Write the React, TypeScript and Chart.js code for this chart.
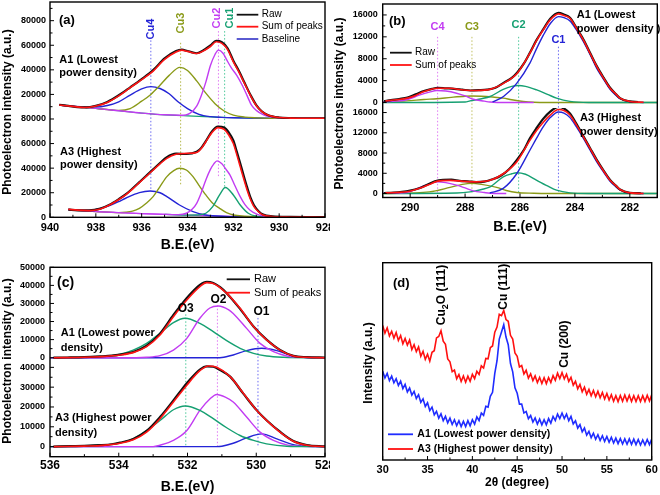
import React, { useEffect, useRef } from 'react';
import { Chart, registerables } from 'chart.js';

Chart.register(...registerables);

const FONT = '"Liberation Sans", Arial, Helvetica, sans-serif';
Chart.defaults.font.family = FONT;

const BLUE = '#2424d6';
const OLIVE = '#8a9a18';
const PURPLE = '#c23cf2';
const TEAL = '#16a072';
const RED = '#ff1414';
const BLACK = '#111111';
const BASE = '#4848cc';

// ---------------- Panel (a): Cu 2p ----------------
const aXTicks = [940, 938, 936, 934, 932, 930, 928];
const aXMinor = [939, 937, 935, 933, 931, 929];
const aYTopTicks = [20000, 40000, 60000, 80000];
const aYTopMinor = [10000, 30000, 50000, 70000, 90000];
const aYBotTicks = [0, 20000, 40000, 60000, 80000];
const aYBotMinor = [10000, 30000, 50000, 70000];
const aPeakNames = ['Cu4', 'Cu3', 'Cu2', 'Cu1'];
const aPeakX = [935.6, 934.3, 932.65, 932.38];
const aPeakTop = [64000, 62000, 71500, 71500];
const aPeakBottom = [21000, 26000, 33000, 23500];

const a1Sum = [
  [939.6, 11400], [939.0, 10300], [938.5, 9300], [938.0, 10600], [937.5, 13500], [937.0, 18800], [936.5, 25500],
  [936.0, 32000], [935.5, 39000], [935.0, 48500], [934.5, 54500], [934.25, 56000], [934.0, 55000], [933.6, 53300],
  [933.25, 56000], [933.0, 59000], [932.75, 62800], [932.5, 61500], [932.25, 56500], [932.0, 46500], [931.75, 38000],
  [931.5, 28500], [931.25, 19000], [931.0, 11000], [930.75, 6000], [930.5, 3300], [930.0, 1200], [929.5, 700],
  [929.0, 600], [928.5, 500], [928.0, 500],
];
const a1Raw = [
  [939.6, 11600], [939.2, 10700], [938.8, 9700], [938.4, 9400], [938.0, 10800], [937.5, 13900], [937.0, 19300],
  [936.5, 25800], [936.0, 32500], [935.5, 39800], [935.0, 49300], [934.5, 55300], [934.25, 56500], [934.0, 55300],
  [933.6, 53500], [933.25, 56600], [933.0, 59800], [932.75, 63500], [932.5, 62500], [932.25, 57500], [932.0, 47500],
  [931.75, 38800], [931.5, 29000], [931.25, 19500], [931.0, 11300], [930.75, 6100], [930.5, 3300], [930.0, 1200],
  [929.5, 700], [929.0, 600], [928.5, 500], [928.0, 500],
];
const a1Base = [
  [939.6, 11300], [939.0, 10300], [938.5, 9500], [938.0, 8600], [937.5, 7700], [937.0, 6700], [936.5, 5700],
  [936.0, 4800], [935.5, 4000], [935.0, 3400], [934.5, 2900], [934.0, 2500], [933.5, 2100], [933.0, 1700],
  [932.5, 1300], [932.0, 1000], [931.0, 700], [930.0, 500], [929.0, 400], [928.0, 400],
];
const a1Cu4 = [
  [939.6, 11300], [939.0, 10400], [938.5, 9800], [938.0, 9700], [937.5, 11000], [937.0, 14000], [936.5, 19500],
  [936.0, 24500], [935.6, 26300], [935.2, 24800], [934.8, 20500], [934.4, 13800], [934.0, 8500], [933.5, 3800],
  [933.0, 1900], [932.5, 1300], [932.0, 1000], [931.0, 700], [930.0, 500], [929.0, 400], [928.0, 400],
];
const a1Cu3 = [
  [939.6, 11300], [939.0, 10300], [938.5, 9500], [938.0, 8600], [937.5, 7700], [937.0, 7000], [936.5, 8500],
  [936.0, 14500], [935.6, 20000], [935.2, 27500], [934.8, 35500], [934.33, 42000], [934.0, 39500], [933.6, 31000],
  [933.2, 21000], [932.8, 12500], [932.4, 6500], [932.0, 3200], [931.5, 1500], [931.0, 900], [930.0, 500],
  [928.0, 400],
];
const a1Cu2 = [
  [939.6, 11300], [938.0, 8600], [937.0, 6700], [936.0, 4800], [935.0, 3400], [934.3, 3000], [933.9, 4600],
  [933.6, 10500], [933.4, 19000], [933.2, 30000], [933.0, 43500], [932.8, 52500], [932.65, 56000], [932.45, 53500],
  [932.3, 48500], [932.1, 42000], [931.85, 35500], [931.6, 27000], [931.4, 19000], [931.2, 11000], [931.0, 7000],
  [930.7, 3500], [930.4, 1800], [930.0, 900], [929.0, 500], [928.0, 400],
];

const a3Sum = [
  [939.2, 6500], [938.8, 5800], [938.3, 5400], [937.8, 6800], [937.4, 10000], [937.0, 14500], [936.7, 18200],
  [936.4, 23000], [936.1, 28200], [935.8, 33300], [935.5, 38500], [935.2, 43500], [934.9, 48000], [934.5, 51300],
  [934.05, 52000], [933.6, 52800], [933.4, 56000], [933.2, 61500], [932.95, 68500], [932.67, 73000], [932.4, 71500],
  [932.2, 67000], [932.0, 60000], [931.85, 51000], [931.7, 41300], [931.55, 31500], [931.4, 22300], [931.25, 14500],
  [931.1, 8700], [930.9, 4500], [930.7, 1900], [930.3, 700], [929.5, 300], [928.0, 100],
];
const a3Raw = [
  [939.2, 6300], [938.8, 5700], [938.3, 5600], [937.8, 7100], [937.4, 10300], [937.0, 14800], [936.7, 18600],
  [936.4, 23400], [936.1, 28600], [935.8, 33800], [935.5, 39000], [935.2, 44200], [934.9, 49000], [934.5, 51800],
  [934.05, 51500], [933.6, 53300], [933.4, 56500], [933.2, 62000], [932.95, 69500], [932.67, 73800], [932.4, 73000],
  [932.2, 69000], [932.0, 62500], [931.85, 53500], [931.7, 44000], [931.55, 34000], [931.4, 24500], [931.25, 16000],
  [931.1, 9800], [930.9, 5000], [930.7, 2200], [930.3, 800], [929.5, 300], [928.0, 100],
];
const a3Base = [
  [939.2, 6300], [938.5, 5300], [938.0, 4700], [937.0, 3800], [936.0, 3000], [935.0, 2400], [934.0, 1800],
  [933.0, 1200], [932.0, 700], [931.0, 300], [930.0, 100], [928.0, 0],
];
const a3Cu4 = [
  [939.2, 6400], [938.8, 5800], [938.3, 5500], [937.8, 7300], [937.4, 9500], [937.0, 12800], [936.7, 15500],
  [936.1, 20100], [935.63, 21400], [935.2, 20000], [934.9, 16800], [934.35, 10000], [933.76, 4600], [933.2, 1900],
  [932.3, 700], [931.0, 300], [930.0, 100], [928.0, 0],
];
const a3Cu3 = [
  [939.2, 6300], [938.0, 4700], [937.0, 3800], [936.7, 4100], [936.4, 5000], [936.1, 7300], [935.8, 11500],
  [935.5, 16800], [935.2, 25000], [934.9, 33100], [934.6, 38000], [934.35, 39900], [934.05, 38500], [933.76, 33100],
  [933.5, 26000], [933.2, 18200], [932.9, 11500], [932.6, 7300], [932.3, 3800], [932.0, 1900], [931.5, 900],
  [931.0, 400], [930.0, 100], [928.0, 0],
];
const a3Cu2 = [
  [939.2, 6300], [938.0, 4700], [937.0, 3800], [936.0, 3000], [935.0, 2400], [934.4, 2200], [934.05, 3300],
  [933.8, 6500], [933.6, 11400], [933.4, 20000], [933.2, 30400], [933.0, 39000], [932.85, 43500], [932.71, 45900],
  [932.5, 43500], [932.3, 38500], [932.15, 34500], [931.95, 26500], [931.7, 16800], [931.5, 10500], [931.28, 6000],
  [931.0, 2800], [930.7, 1100], [930.3, 400], [929.0, 100], [928.0, 0],
];
const a3Cu1 = [
  [935.0, 2400], [934.0, 1800], [933.6, 1900], [933.2, 3300], [932.9, 8700], [932.6, 18200], [932.35, 24200],
  [932.0, 18200], [931.7, 10000], [931.35, 3300], [931.0, 900], [930.5, 300], [929.5, 100], [928.0, 0],
];

// ---------------- Panel (b): C 1s ----------------
const bXTicks = [290, 288, 286, 284, 282];
const bXMinor = [291, 289, 287, 285, 283, 281];
const bYTicks = [0, 4000, 8000, 12000, 16000];
const bYMinor = [2000, 6000, 10000, 14000];
const bPeakNames = ['C4', 'C3', 'C2', 'C1'];
const bPeakX = [289.0, 287.75, 286.05, 284.6];
const bPeakTop = [12000, 12000, 12000, 10200];

const b1Sum = [
  [290.9, 300], [290.5, 500], [290.1, 800], [289.8, 1300], [289.5, 2000], [289.0, 2600], [288.55, 2600],
  [288.06, 2300], [287.6, 2200], [287.1, 2400], [286.6, 3500], [286.1, 5350], [285.64, 9000], [285.4, 11300],
  [285.15, 13300], [284.9, 15100], [284.6, 16200], [284.4, 15900], [284.18, 15400], [283.95, 13600], [283.69, 11400],
  [283.45, 9000], [283.21, 6600], [282.95, 4400], [282.72, 2600], [282.5, 1500], [282.36, 800], [282.0, 200],
  [281.5, 50],
];
const b1Raw = [
  [290.95, 250], [290.7, 450], [290.4, 650], [290.1, 900], [289.8, 1500], [289.5, 2100], [289.2, 2500],
  [289.0, 2700], [288.7, 2600], [288.4, 2500], [288.1, 2350], [287.8, 2200], [287.5, 2250], [287.2, 2350],
  [286.9, 2700], [286.6, 3600], [286.3, 4500], [286.1, 5500], [285.85, 7200], [285.64, 9100], [285.4, 11400],
  [285.15, 13400], [284.9, 15300], [284.6, 16400], [284.4, 16100], [284.18, 15500], [283.95, 13700], [283.69, 11500],
  [283.45, 9100], [283.21, 6700], [282.95, 4500], [282.72, 2700], [282.5, 1500], [282.36, 800], [282.0, 200],
  [281.7, 100],
];
const b1C1 = [
  [287.0, 100], [286.6, 1100], [286.12, 3500], [285.64, 7200], [285.4, 9800], [285.15, 12300], [284.9, 14400],
  [284.6, 15700], [284.4, 15500], [284.18, 14900], [283.95, 13300], [283.69, 11100], [283.45, 8800], [283.21, 6300],
  [282.95, 4200], [282.72, 2400], [282.5, 1300], [282.36, 700], [282.0, 150], [281.5, 0],
];
const b1C2 = [
  [291.0, 0], [288.0, 100], [287.82, 300], [287.4, 700], [287.09, 1100], [286.61, 2400], [286.3, 2950],
  [286.06, 3100], [285.8, 2950], [285.39, 2300], [285.0, 1500], [284.67, 800], [284.18, 200], [283.5, 0], [281.0, 0],
];
const b1C3 = [
  [291.0, 100], [290.13, 300], [289.5, 550], [289.03, 700], [288.5, 950], [288.0, 1150], [287.76, 1200],
  [287.4, 1150], [287.0, 1000], [286.61, 800], [286.3, 500], [285.88, 200], [285.5, 50], [285.0, 0], [281.0, 0],
];
const b1C4 = [
  [291.0, 100], [290.5, 250], [290.13, 500], [289.64, 1400], [289.3, 1900], [289.03, 2200], [288.7, 2100],
  [288.31, 1700], [288.0, 1200], [287.7, 600], [287.3, 250], [287.09, 100], [286.5, 0], [285.5, 0],
];

const b3Sum = [
  [290.9, 130], [290.5, 200], [290.13, 330], [289.8, 800], [289.52, 1300], [289.25, 1900], [289.03, 2400],
  [288.55, 2600], [288.06, 2400], [287.6, 2300], [287.09, 2600], [286.61, 3900], [286.12, 6250], [285.64, 10500],
  [285.39, 12500], [285.15, 14100], [284.9, 15500], [284.6, 16600], [284.4, 16400], [284.18, 15500], [283.95, 13600],
  [283.69, 11200], [283.45, 8900], [283.21, 6600], [282.95, 4400], [282.72, 2600], [282.5, 1500], [282.36, 800],
  [282.0, 130], [281.5, 0],
];
const b3Raw = [
  [290.95, 100], [290.6, 200], [290.3, 350], [290.0, 600], [289.7, 1000], [289.4, 1700], [289.1, 2400],
  [288.8, 2700], [288.5, 2750], [288.2, 2500], [287.9, 2400], [287.6, 2250], [287.3, 2350], [287.0, 2800],
  [286.7, 3500], [286.4, 4800], [286.12, 6600], [285.85, 8700], [285.64, 10900], [285.39, 13000], [285.15, 14800],
  [284.9, 16200], [284.6, 17100], [284.4, 16800], [284.18, 15800], [283.95, 13800], [283.69, 11300], [283.45, 9000],
  [283.21, 6700], [282.95, 4500], [282.72, 2700], [282.5, 1500], [282.36, 800], [282.0, 150], [281.6, 50],
];
const b3C1 = [
  [287.1, 100], [286.61, 1000], [286.12, 3900], [285.64, 8550], [285.39, 11000], [285.15, 13200], [284.9, 15000],
  [284.6, 16100], [284.4, 15900], [284.18, 15000], [283.95, 13200], [283.69, 10900], [283.45, 8600], [283.21, 6300],
  [282.95, 4200], [282.72, 2400], [282.5, 1300], [282.36, 700], [282.0, 100], [281.5, 0],
];
const b3C2 = [
  [291.0, 0], [288.3, 100], [287.82, 330], [287.4, 800], [287.09, 1300], [286.61, 3300], [286.3, 3900],
  [286.12, 4100], [285.8, 3800], [285.39, 2600], [285.0, 1500], [284.67, 660], [284.18, 130], [283.5, 0], [281.0, 0],
];
const b3C3 = [
  [291.0, 0], [289.3, 330], [288.55, 1200], [288.1, 1800], [287.76, 2000], [287.4, 1800], [286.85, 1200],
  [286.5, 600], [286.12, 200], [285.5, 50], [285.0, 0], [281.0, 0],
];
const b3C4 = [
  [291.0, 50], [290.5, 100], [290.13, 200], [289.64, 1200], [289.3, 1900], [289.03, 2300], [288.7, 2150],
  [288.31, 1650], [288.0, 1100], [287.7, 530], [287.3, 200], [287.09, 60], [286.5, 0],
];

// ---------------- Panel (c): O 1s ----------------
const cXTicks = [536, 534, 532, 530, 528];
const cXMinor = [535, 533, 531, 529];
const cYTopTicks = [0, 10000, 20000, 30000, 40000, 50000];
const cYTopMinor = [5000, 15000, 25000, 35000, 45000];
const cYBotTicks = [0, 10000, 20000, 30000, 40000];
const cYBotMinor = [5000, 15000, 25000, 35000];
const cPeakNames = ['O3', 'O2', 'O1'];
const cPeakX = [532.05, 531.13, 529.95];
const cPeakTop = [24000, 29000, 22000];

const c1Sum = [
  [535.9, 0], [535.0, 200], [534.55, 550], [533.96, 1500], [533.58, 2800], [533.19, 6100], [532.8, 12500],
  [532.41, 22700], [532.02, 31900], [531.64, 39300], [531.44, 41500], [531.25, 41100], [530.86, 35600],
  [530.47, 27300], [530.08, 17200], [529.7, 9800], [529.31, 4200], [528.92, 900], [528.53, 200], [528.0, 0],
];
const c1Raw = [
  [535.9, 0], [535.5, 100], [535.0, 300], [534.55, 700], [534.2, 1100], [533.96, 1700], [533.58, 3100],
  [533.19, 6600], [532.8, 13300], [532.41, 23600], [532.02, 33000], [531.8, 37600], [531.64, 40300], [531.44, 41900],
  [531.25, 41300], [531.05, 39000], [530.86, 35700], [530.47, 27000], [530.08, 17300], [529.7, 10000],
  [529.31, 4300], [528.92, 1000], [528.53, 300], [528.0, 100],
];
const c1O3 = [
  [536.0, 0], [535.0, 200], [534.55, 550], [533.96, 2000], [533.58, 4200], [533.19, 7900], [532.8, 13500],
  [532.41, 19400], [532.07, 21800], [531.64, 19000], [531.25, 14400], [530.86, 9400], [530.47, 5200],
  [530.08, 2400], [529.7, 900], [529.2, 200], [528.5, 0], [528.0, 0],
];
const c1O2 = [
  [536.0, 0], [533.5, 0], [533.19, 200], [532.8, 1100], [532.41, 4200], [532.02, 10700], [531.64, 21800],
  [531.35, 27500], [531.1, 28600], [530.8, 26500], [530.67, 24500], [530.28, 16200], [529.89, 7900], [529.5, 3300],
  [529.11, 900], [528.7, 200], [528.0, 0],
];
const c1O1 = [
  [536.0, 0], [531.15, 0], [531.0, 100], [530.67, 1500], [530.28, 3900], [529.84, 5200], [529.4, 3900],
  [528.92, 900], [528.5, 100], [528.0, 0],
];

const c3Sum = [
  [535.9, 0], [535.0, 250], [534.55, 500], [533.96, 1700], [533.58, 3400], [533.19, 7300], [532.8, 14100],
  [532.41, 22500], [532.02, 31000], [531.64, 38300], [531.39, 40700], [531.15, 40000], [530.76, 35300],
  [530.37, 26800], [529.99, 18300], [529.7, 13200], [529.31, 7300], [528.92, 2700], [528.53, 700], [528.0, 0],
];
const c3Raw = [
  [535.9, 0], [535.4, 200], [535.0, 350], [534.55, 700], [534.2, 1200], [533.96, 2000], [533.58, 3800],
  [533.19, 7900], [532.8, 14900], [532.41, 23300], [532.02, 32000], [531.8, 36200], [531.64, 38900], [531.44, 40500],
  [531.25, 40300], [531.05, 38600], [530.76, 35300], [530.37, 26600], [529.99, 18400], [529.7, 13300],
  [529.31, 7500], [528.92, 2800], [528.53, 800], [528.0, 100],
];
const c3O3 = [
  [536.0, 0], [535.0, 300], [534.55, 700], [533.96, 1900], [533.58, 3900], [533.19, 8100], [532.8, 13200],
  [532.41, 18600], [532.07, 20500], [531.64, 18300], [531.25, 14100], [530.86, 9500], [530.47, 5600],
  [530.08, 3100], [529.7, 1400], [529.11, 170], [528.5, 0], [528.0, 0],
];
const c3O2 = [
  [536.0, 0], [533.0, 0], [532.8, 700], [532.41, 3100], [532.02, 8100], [531.64, 18300], [531.35, 24000],
  [531.15, 26300], [530.9, 25000], [530.67, 22500], [530.28, 14900], [529.89, 7300], [529.5, 3100], [529.11, 850],
  [528.7, 200], [528.0, 0],
];
const c3O1 = [
  [536.0, 0], [531.15, 0], [531.0, 200], [530.67, 1700], [530.28, 4400], [529.84, 6400], [529.4, 3900],
  [528.92, 1000], [528.5, 200], [528.0, 0],
];

// ---------------- Panel (d): XRD ----------------
const dXTicks = [30, 35, 40, 45, 50, 55, 60];
const dXMinor = [32.5, 37.5, 42.5, 47.5, 52.5, 57.5];
const dA3 = [
  [30.0, 68.2], [30.25, 64.3], [30.5, 67.0], [30.75, 62.9], [31.0, 65.2], [31.25, 61.8], [31.5, 64.6], [31.75, 60.6],
  [32.0, 63.1], [32.25, 58.9], [32.5, 61.6], [32.75, 58.3], [33.0, 60.8], [33.25, 56.0], [33.5, 58.4], [33.75, 54.9],
  [34.0, 57.3], [34.25, 52.6], [34.5, 55.1], [34.75, 51.0], [35.0, 53.6], [35.25, 50.1], [35.5, 54.6], [35.75, 55.4],
  [36.0, 61.9], [36.25, 62.6], [36.5, 65.5], [36.75, 60.2], [37.0, 58.6], [37.25, 51.2], [37.5, 49.8], [37.75, 44.8],
  [38.0, 45.6], [38.25, 41.2], [38.5, 43.3], [38.75, 39.8], [39.0, 42.6], [39.25, 39.4], [39.5, 42.5], [39.75, 39.9],
  [40.0, 43.4], [40.25, 41.2], [40.5, 45.0], [40.75, 43.4], [41.0, 47.7], [41.25, 46.6], [41.5, 51.5], [41.75, 51.3],
  [42.0, 56.9], [42.25, 57.8], [42.5, 64.8], [42.75, 67.4], [43.0, 73.9], [43.25, 73.2], [43.5, 75.8], [43.75, 71.2],
  [44.0, 70.3], [44.25, 63.2], [44.5, 61.3], [44.75, 54.2], [45.0, 52.6], [45.25, 47.2], [45.5, 47.9], [45.75, 43.6],
  [46.0, 45.5], [46.25, 41.5], [46.5, 43.7], [46.75, 40.2], [47.0, 42.6], [47.25, 39.3], [47.5, 41.9], [47.75, 38.8],
  [48.0, 41.7], [48.25, 38.7], [48.5, 41.8], [48.75, 39.3], [49.0, 42.8], [49.25, 40.4], [49.5, 44.0], [49.75, 41.3],
  [50.0, 44.3], [50.25, 41.1], [50.5, 43.5], [50.75, 39.8], [51.0, 41.9], [51.25, 37.9], [51.5, 39.9], [51.75, 36.1],
  [52.0, 38.3], [52.25, 34.6], [52.5, 36.9], [52.75, 33.3], [53.0, 35.8], [53.25, 32.5], [53.5, 35.2], [53.75, 32.0],
  [54.0, 34.8], [54.25, 31.5], [54.5, 34.2], [54.75, 30.9], [55.0, 33.7], [55.25, 30.4], [55.5, 33.1], [55.75, 29.8],
  [56.0, 32.6], [56.25, 29.6], [56.5, 32.7], [56.75, 29.8], [57.0, 32.9], [57.25, 29.9], [57.5, 32.8], [57.75, 29.7],
  [58.0, 32.6], [58.25, 29.6], [58.5, 32.6], [58.75, 29.6], [59.0, 32.6], [59.25, 29.7], [59.5, 32.8], [59.75, 29.9],
  [60.0, 33.0],
];
const dA1 = [
  [30.0, 45.0], [30.25, 41.6], [30.5, 43.9], [30.75, 40.2], [31.0, 42.5], [31.25, 39.1], [31.5, 41.2], [31.75, 37.8],
  [32.0, 40.0], [32.25, 36.2], [32.5, 38.3], [32.75, 34.5], [33.0, 36.5], [33.25, 32.9], [33.5, 34.8], [33.75, 31.2],
  [34.0, 33.1], [34.25, 29.2], [34.5, 31.0], [34.75, 27.1], [35.0, 29.0], [35.25, 25.0], [35.5, 26.8], [35.75, 22.9],
  [36.0, 24.7], [36.25, 21.2], [36.5, 23.4], [36.75, 19.9], [37.0, 22.1], [37.25, 18.8], [37.5, 21.2], [37.75, 18.0],
  [38.0, 20.4], [38.25, 17.4], [38.5, 19.9], [38.75, 16.9], [39.0, 19.6], [39.25, 16.9], [39.5, 19.9], [39.75, 17.3],
  [40.0, 20.4], [40.25, 18.2], [40.5, 21.8], [40.75, 20.0], [41.0, 23.8], [41.25, 22.6], [41.5, 27.2], [41.75, 26.8],
  [42.0, 32.3], [42.25, 34.3], [42.5, 43.9], [42.75, 50.3], [43.0, 61.3], [43.25, 64.9], [43.5, 68.6], [43.75, 62.3],
  [44.0, 58.4], [44.25, 48.9], [44.5, 44.7], [44.75, 36.6], [45.0, 33.8], [45.25, 28.3], [45.5, 28.3], [45.75, 23.8],
  [46.0, 24.6], [46.25, 20.9], [46.5, 22.5], [46.75, 19.2], [47.0, 21.3], [47.25, 18.2], [47.5, 20.7], [47.75, 17.8],
  [48.0, 20.4], [48.25, 17.8], [48.5, 21.0], [48.75, 18.7], [49.0, 22.1], [49.25, 20.0], [49.5, 23.3], [49.75, 21.0],
  [50.0, 23.8], [50.25, 21.0], [50.5, 23.3], [50.75, 19.9], [51.0, 22.1], [51.25, 18.3], [51.5, 19.9], [51.75, 16.2],
  [52.0, 17.9], [52.25, 14.3], [52.5, 16.2], [52.75, 12.6], [53.0, 14.5], [53.25, 11.3], [53.5, 13.6], [53.75, 10.5],
  [54.0, 12.8], [54.25, 9.9], [54.5, 12.3], [54.75, 9.4], [55.0, 11.9], [55.25, 9.0], [55.5, 11.5], [55.75, 8.6],
  [56.0, 11.1], [56.25, 8.3], [56.5, 10.9], [56.75, 8.1], [57.0, 10.7], [57.25, 8.0], [57.5, 10.7], [57.75, 7.9],
  [58.0, 10.6], [58.25, 7.8], [58.5, 10.4], [58.75, 7.6], [59.0, 10.2], [59.25, 7.6], [59.5, 10.4], [59.75, 7.8],
  [60.0, 10.6],
];

// ---------------- helpers ----------------
const toXY = (arr: number[][]) => arr.map(([x, y]) => ({ x, y }));

function ln(data: number[][], color: string, width: number, axis: string, smooth = true) {
  return {
    data: toXY(data),
    borderColor: color,
    backgroundColor: color,
    borderWidth: width,
    pointRadius: 0,
    pointHoverRadius: 0,
    fill: false,
    yAxisID: axis,
    tension: 0,
    cubicInterpolationMode: smooth ? 'monotone' : 'default',
  };
}

function xScale(min: number, max: number, reverse: boolean, ticks: number[], size: number, pad: number) {
  return {
    type: 'linear',
    position: 'bottom',
    min,
    max,
    reverse,
    grid: { display: false, drawTicks: false },
    border: { display: false },
    ticks: {
      color: '#000',
      font: { size, weight: 'bold', family: FONT },
      padding: pad,
      autoSkip: false,
      maxRotation: 0,
      minRotation: 0,
      callback: (v: any) => String(v),
    },
    afterBuildTicks: (s: any) => {
      s.ticks = ticks.map((value) => ({ value }));
    },
    afterFit: (s: any) => {
      s.height = 30;
      s.paddingLeft = 0;
      s.paddingRight = 0;
      s.paddingTop = 0;
      s.paddingBottom = 0;
    },
  };
}

function yScale(min: number, max: number, ticks: number[], weight: number, stackWeight: number, pad: number) {
  return {
    type: 'linear',
    position: 'left',
    min,
    max,
    stack: 'panel',
    stackWeight,
    weight,
    grid: { display: false, drawTicks: false },
    border: { display: false },
    ticks: {
      color: '#000',
      font: { size: 9, weight: 'bold', family: FONT },
      padding: pad,
      autoSkip: false,
      callback: (v: any) => String(v),
    },
    afterBuildTicks: (s: any) => {
      s.ticks = ticks.map((value) => ({ value }));
    },
    afterFit: (s: any) => {
      s.width = 46;
      s.paddingLeft = 0;
      s.paddingRight = 0;
      s.paddingTop = 0;
      s.paddingBottom = 0;
    },
  };
}

function drawText(ctx: any, lab: any, x: number) {
  const segs = typeof lab.t === 'string' ? [{ t: lab.t }] : lab.t;
  const weight = lab.bold === false ? '' : 'bold ';
  const fMain = `${weight}${lab.size}px ${FONT}`;
  const fSub = `${weight}${Math.round(lab.size * 0.72)}px ${FONT}`;
  ctx.save();
  ctx.translate(x, lab.y);
  if (lab.rot) ctx.rotate(-Math.PI / 2);
  ctx.textBaseline = 'middle';
  ctx.textAlign = 'left';
  ctx.fillStyle = lab.color || '#000';
  let total = 0;
  const widths = segs.map((s: any) => {
    ctx.font = s.sub ? fSub : fMain;
    const w = ctx.measureText(s.t).width;
    total += w;
    return w;
  });
  const align = lab.align || 'left';
  let cx = align === 'center' ? -total / 2 : align === 'right' ? -total : 0;
  segs.forEach((s: any, i: number) => {
    ctx.font = s.sub ? fSub : fMain;
    ctx.fillText(s.t, cx, s.sub ? lab.size * 0.32 : 0);
    cx += widths[i];
  });
  ctx.restore();
}

function decorPlugin(spec: any) {
  return {
    id: 'decor',
    beforeDatasetsDraw(chart: any) {
      const ctx = chart.ctx;
      const xs = chart.scales.x;
      ctx.save();
      ctx.lineWidth = 1;
      ctx.setLineDash([1.5, 2]);
      for (const v of spec.vlines || []) {
        const px = xs.getPixelForValue(v.x);
        const y1 = chart.scales[v.y1[0]].getPixelForValue(v.y1[1]);
        const y2 = chart.scales[v.y2[0]].getPixelForValue(v.y2[1]);
        ctx.strokeStyle = v.color;
        ctx.beginPath();
        ctx.moveTo(px, y1);
        ctx.lineTo(px, y2);
        ctx.stroke();
      }
      ctx.restore();
    },
    afterDraw(chart: any) {
      const ctx = chart.ctx;
      const ca = chart.chartArea;
      const xs = chart.scales.x;
      ctx.save();
      ctx.setLineDash([]);
      ctx.strokeStyle = '#000';
      ctx.lineWidth = 1.4;
      ctx.strokeRect(ca.left, ca.top, ca.right - ca.left, ca.bottom - ca.top);
      ctx.lineWidth = 1;
      ctx.beginPath();
      for (const v of spec.xMajor) {
        const p = xs.getPixelForValue(v);
        ctx.moveTo(p, ca.bottom);
        ctx.lineTo(p, ca.bottom - 4);
      }
      for (const v of spec.xMinor) {
        const p = xs.getPixelForValue(v);
        ctx.moveTo(p, ca.bottom);
        ctx.lineTo(p, ca.bottom - 2.5);
      }
      for (const yt of spec.yTicks || []) {
        const s = chart.scales[yt.id];
        const put = (v: number, len: number) => {
          const py = s.getPixelForValue(v);
          if (py < s.top - 0.5 || py > s.bottom + 0.5) return;
          ctx.moveTo(ca.left, py);
          ctx.lineTo(ca.left + len, py);
        };
        yt.major.forEach((v: number) => put(v, 4));
        yt.minor.forEach((v: number) => put(v, 2.5));
      }
      ctx.stroke();

      // legend
      const lg = spec.legend;
      if (lg) {
        for (const it of lg.items) {
          ctx.strokeStyle = it.color;
          ctx.lineWidth = 1.8;
          ctx.beginPath();
          ctx.moveTo(lg.x1, it.y);
          ctx.lineTo(lg.x2, it.y);
          ctx.stroke();
          drawText(ctx, { t: it.text, y: it.y, size: lg.size, bold: lg.bold, color: '#000' }, lg.tx);
        }
      }
      for (const lab of spec.labels) {
        const x = lab.xv !== undefined ? xs.getPixelForValue(lab.xv) : lab.x;
        drawText(ctx, lab, x);
      }
      ctx.restore();
    },
  };
}

function baseOptions(W: number, H: number, area: any, scales: any) {
  return {
    responsive: false,
    animation: false,
    events: [],
    layout: {
      autoPadding: false,
      padding: {
        left: area.l - area.yw,
        right: W - area.r,
        top: area.t,
        bottom: H - area.b - 30,
      },
    },
    plugins: { legend: { display: false }, tooltip: { enabled: false }, title: { display: false } },
    scales,
  };
}

// ---------------- panel builders ----------------
function buildA() {
  const W = 330, H = 255;
  const peakCol = [BLUE, OLIVE, PURPLE, TEAL];
  const dotCol = ['#6a6af2', '#b4b84a', '#e07cf4', '#4cc89a'];
  return {
    type: 'line',
    data: {
      datasets: [
        ln(a1Sum, RED, 1.6, 'yTop'),
        ln(a3Sum, RED, 1.6, 'yBot'),
        ln(a1Raw, BLACK, 2.2, 'yTop'),
        ln(a3Raw, BLACK, 2.2, 'yBot'),
        ln(a1Cu2, PURPLE, 1.4, 'yTop'),
        ln(a3Cu2, PURPLE, 1.4, 'yBot'),
        ln(a3Cu1, TEAL, 1.4, 'yBot'),
        ln(a1Cu3, OLIVE, 1.4, 'yTop'),
        ln(a3Cu3, OLIVE, 1.4, 'yBot'),
        ln(a1Cu4, BLUE, 1.4, 'yTop'),
        ln(a3Cu4, BLUE, 1.4, 'yBot'),
        ln(a1Base, TEAL, 1.2, 'yTop'),
        ln(a3Base, PURPLE, 1.2, 'yBot'),
      ],
    },
    options: baseOptions(W, H, { l: 50, t: 2, r: 325, b: 217.3, yw: 46 }, {
      x: xScale(928, 940, true, aXTicks, 11, 4),
      yTop: yScale(0, 95200, aYTopTicks, 2, 95200, 4),
      yBot: yScale(0, 80000, aYBotTicks, 1, 80000, 4),
    }),
    plugins: [
      decorPlugin({
        xMajor: aXTicks,
        xMinor: aXMinor,
        yTicks: [
          { id: 'yTop', major: aYTopTicks, minor: aYTopMinor },
          { id: 'yBot', major: aYBotTicks, minor: aYBotMinor },
        ],
        vlines: aPeakX.map((x, i) => ({ x, y1: ['yTop', aPeakTop[i]], y2: ['yBot', aPeakBottom[i]], color: dotCol[i] })),
        legend: {
          x1: 236.7, x2: 258.3, tx: 261.7, size: 10, bold: false,
          items: [
            { color: BLACK, text: 'Raw', y: 14.7 },
            { color: RED, text: 'Sum of peaks', y: 26.7 },
            { color: BASE, text: 'Baseline', y: 39 },
          ],
        },
        labels: [
          { t: '(a)', x: 59, y: 20.7, size: 13 },
          { t: 'A1 (Lowest', x: 59.3, y: 60, size: 11 },
          { t: 'power density)', x: 59.3, y: 73.3, size: 11 },
          { t: 'A3 (Highest', x: 60, y: 151.7, size: 11 },
          { t: 'power density)', x: 60, y: 165, size: 11 },
          { t: aPeakNames[0], xv: 935.6, y: 29, size: 11, rot: true, align: 'center', color: peakCol[0] },
          { t: aPeakNames[1], xv: 934.3, y: 23, size: 11, rot: true, align: 'center', color: peakCol[1] },
          { t: aPeakNames[2], xv: 932.72, y: 18, size: 11, rot: true, align: 'center', color: peakCol[2] },
          { t: aPeakNames[3], xv: 932.15, y: 18, size: 11, rot: true, align: 'center', color: peakCol[3] },
          { t: 'Photoelectron intensity (a.u.)', x: 8, y: 112, size: 12, rot: true, align: 'center' },
          { t: 'B.E.(eV)', x: 187.5, y: 245, size: 14, align: 'center' },
        ],
      }),
    ],
  };
}

function buildB() {
  const W = 330, H = 255;
  const dotCol = ['#e07cf4', '#c0c060', '#4cc89a', '#6a6af2'];
  const labCol = [PURPLE, OLIVE, TEAL, BLUE];
  const labY = [26.7, 26.7, 25, 40];
  return {
    type: 'line',
    data: {
      datasets: [
        ln(b1Sum, RED, 1.6, 'yTop'),
        ln(b3Sum, RED, 1.6, 'yBot'),
        ln(b1Raw, BLACK, 2.2, 'yTop'),
        ln(b3Raw, BLACK, 2.2, 'yBot'),
        ln(b1C1, BLUE, 1.4, 'yTop'),
        ln(b3C1, BLUE, 1.4, 'yBot'),
        ln(b1C4, PURPLE, 1.4, 'yTop'),
        ln(b3C4, PURPLE, 1.4, 'yBot'),
        ln(b1C2, TEAL, 1.4, 'yTop'),
        ln(b3C2, TEAL, 1.4, 'yBot'),
        ln(b1C3, OLIVE, 1.4, 'yTop'),
        ln(b3C3, OLIVE, 1.4, 'yBot'),
      ],
    },
    options: baseOptions(W, H, { l: 52.7, t: 4, r: 327.3, b: 197.5, yw: 46 }, {
      x: xScale(281, 291, true, bXTicks, 11, 4),
      yTop: yScale(-1000, 18000, bYTicks, 2, 104, 5),
      yBot: yScale(-790, 16900, bYTicks, 1, 89.5, 5),
    }),
    plugins: [
      decorPlugin({
        xMajor: bXTicks,
        xMinor: bXMinor,
        yTicks: [
          { id: 'yTop', major: bYTicks, minor: bYMinor },
          { id: 'yBot', major: bYTicks, minor: bYMinor },
        ],
        vlines: bPeakX.map((x, i) => ({ x, y1: ['yTop', bPeakTop[i]], y2: ['yBot', 0], color: dotCol[i] })),
        legend: {
          x1: 60, x2: 81.7, tx: 85, size: 10, bold: false,
          items: [
            { color: BLACK, text: 'Raw', y: 52.7 },
            { color: RED, text: 'Sum of peaks', y: 65 },
          ],
        },
        labels: [
          { t: '(b)', x: 59, y: 21.7, size: 13 },
          ...bPeakNames.map((t, i) => ({ t, xv: bPeakX[i], y: labY[i], size: 11, align: 'center', color: labCol[i] })),
          { t: 'A1 (Lowest', x: 246.7, y: 15, size: 11 },
          { t: 'power  density )', x: 246.7, y: 29.3, size: 11 },
          { t: 'A3 (Highest', x: 250, y: 118.3, size: 11 },
          { t: 'power density)', x: 250, y: 132.3, size: 11 },
          { t: 'Photoelectrons intensity (a.u.)', x: 10, y: 103.5, size: 12, rot: true, align: 'center' },
          { t: 'B.E.(eV)', x: 190, y: 227, size: 14, align: 'center' },
        ],
      }),
    ],
  };
}

function buildC() {
  const W = 330, H = 245;
  const dotCol = ['#4cc89a', '#e07cf4', '#6a6af2'];
  const labY = [58.3, 50, 61.7];
  const labX = [532.05, 531.1, 529.85];
  return {
    type: 'line',
    data: {
      datasets: [
        ln(c1Sum, RED, 1.6, 'yTop'),
        ln(c3Sum, RED, 1.6, 'yBot'),
        ln(c1Raw, BLACK, 2.2, 'yTop'),
        ln(c3Raw, BLACK, 2.2, 'yBot'),
        ln(c1O2, PURPLE, 1.4, 'yTop'),
        ln(c3O3, TEAL, 1.4, 'yBot'),
        ln(c1O3, TEAL, 1.4, 'yTop'),
        ln(c3O2, PURPLE, 1.4, 'yBot'),
        ln(c1O1, BLUE, 1.4, 'yTop'),
        ln(c3O1, BLUE, 1.4, 'yBot'),
      ],
    },
    options: baseOptions(W, H, { l: 50, t: 17.3, r: 325, b: 206.7, yw: 46 }, {
      x: xScale(528, 536, true, cXTicks, 12, 2),
      yTop: yScale(-2500, 50000, cYTopTicks, 2, 94.9, 5),
      yBot: yScale(-5100, 42600, cYBotTicks, 1, 94.5, 5),
    }),
    plugins: [
      decorPlugin({
        xMajor: cXTicks,
        xMinor: cXMinor,
        yTicks: [
          { id: 'yTop', major: cYTopTicks, minor: cYTopMinor },
          { id: 'yBot', major: cYBotTicks, minor: cYBotMinor },
        ],
        vlines: cPeakX.map((x, i) => ({ x, y1: ['yTop', cPeakTop[i]], y2: ['yBot', 0], color: dotCol[i] })),
        legend: {
          x1: 226.7, x2: 250, tx: 254, size: 11, bold: false,
          items: [
            { color: BLACK, text: 'Raw', y: 29.3 },
            { color: RED, text: 'Sum of peaks', y: 42.7 },
          ],
        },
        labels: [
          { t: '(c)', x: 57, y: 32.7, size: 14 },
          ...cPeakNames.map((t, i) => ({ t, xv: labX[i], y: labY[i], size: 12, align: 'center' })),
          { t: 'A1 (Lowest power', x: 60.7, y: 82.7, size: 11 },
          { t: 'density)', x: 60.7, y: 97.7, size: 11 },
          { t: 'A3 (Highest power', x: 55, y: 168.3, size: 11 },
          { t: 'density)', x: 55, y: 182.7, size: 11 },
          { t: 'Photoelectron intensity (a.u.)', x: 8, y: 111, size: 12, rot: true, align: 'center' },
          { t: 'B.E.(eV)', x: 187.5, y: 237, size: 14, align: 'center' },
        ],
      }),
    ],
  };
}

function buildD() {
  const W = 330, H = 245;
  return {
    type: 'line',
    data: {
      datasets: [ln(dA1, '#1f2cff', 1.6, 'y', false), ln(dA3, '#ff1010', 1.6, 'y', false)],
    },
    options: baseOptions(W, H, { l: 52.7, t: 12.7, r: 321.7, b: 210, yw: 0 }, {
      x: xScale(30, 60, false, dXTicks, 11, 3),
      y: { type: 'linear', display: false, min: 0, max: 100 },
    }),
    plugins: [
      decorPlugin({
        xMajor: dXTicks,
        xMinor: dXMinor,
        yTicks: [],
        vlines: [],
        legend: {
          x1: 58, x2: 83, tx: 87.3, size: 10.5, bold: true,
          items: [
            { color: '#1f2cff', text: 'A1 (Lowest power density)', y: 184.3 },
            { color: '#ff1010', text: 'A3 (Highest power density)', y: 199 },
          ],
        },
        labels: [
          { t: '(d)', x: 63, y: 33.3, size: 13 },
          { t: [{ t: 'Cu' }, { t: '2', sub: true }, { t: 'O (111)' }], xv: 36.55, y: 45, size: 12, rot: true, align: 'center' },
          { t: 'Cu (111)', xv: 43.45, y: 36.7, size: 12, rot: true, align: 'center' },
          { t: 'Cu (200)', xv: 50.25, y: 94.2, size: 12, rot: true, align: 'center' },
          { t: 'Intensity (a.u.)', x: 38.3, y: 113, size: 12, rot: true, align: 'center' },
          { t: '2\u03b8 (degree)', x: 187, y: 232.7, size: 12, align: 'center' },
        ],
      }),
    ],
  };
}

function ChartCanvas({ left, top, w, h, build }: any) {
  const ref = useRef<HTMLCanvasElement>(null);
  useEffect(() => {
    if (!ref.current) return;
    const chart = new Chart(ref.current, build() as any);
    return () => chart.destroy();
  }, []);
  return (
    <canvas
      ref={ref}
      width={w}
      height={h}
      style={{ position: 'absolute', left, top, width: w, height: h }}
    />
  );
}

const panels = [
  { key: 'a', left: 0, top: 0, w: 330, h: 255, build: buildA },
  { key: 'b', left: 330, top: 0, w: 330, h: 255, build: buildB },
  { key: 'c', left: 0, top: 250, w: 330, h: 245, build: buildC },
  { key: 'd', left: 330, top: 250, w: 330, h: 245, build: buildD },
];

export default function App() {
  return (
    <div style={{ position: 'absolute', left: 0, top: 0, width: 660, height: 495, background: '#fff', overflow: 'hidden' }}>
      {panels.map((p) => (
        <ChartCanvas key={p.key} left={p.left} top={p.top} w={p.w} h={p.h} build={p.build} />
      ))}
    </div>
  );
}
